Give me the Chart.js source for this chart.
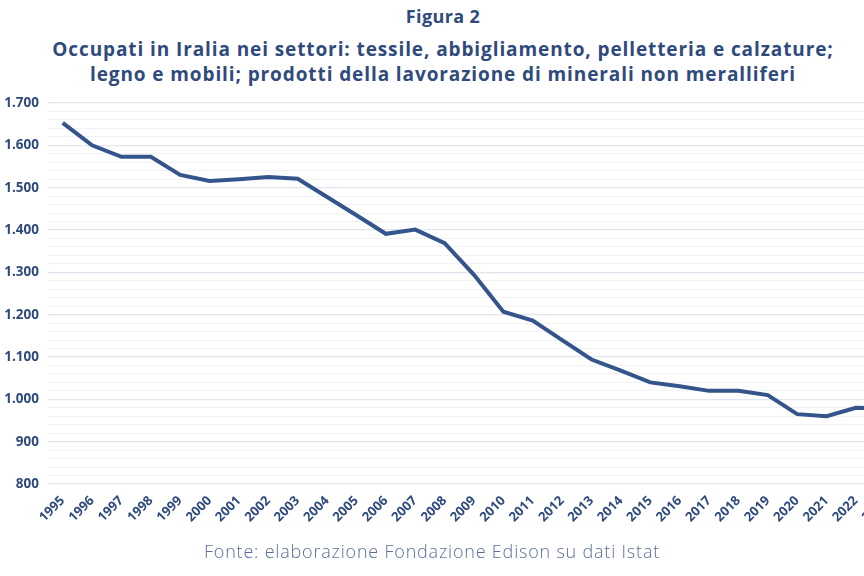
<!DOCTYPE html>
<html>
<head>
<meta charset="utf-8">
<script src="https://cdn.jsdelivr.net/npm/chart.js@4.4.1/dist/chart.umd.min.js"></script>
<style>
  html, body { margin: 0; padding: 0; width: 864px; height: 576px; overflow: hidden; background: #ffffff; }
  #wrap { position: absolute; left: 0; top: 0; width: 900px; height: 540px; }
  .t { position: absolute; left: 0; width: 864px; text-align: center; color: #2f4a7c; font-family: "Open Sans", Lato, sans-serif; font-weight: 700; white-space: nowrap; }
  #fig { top: 4px; left: 11px; font-size: 18px; letter-spacing: 0.4px; }
  #title { top: 37px; left: 11px; font-size: 19px; line-height: 25px; letter-spacing: 0.9px; }
  #src { top: 539px; font-size: 18px; font-weight: 300; color: #5b6f98; letter-spacing: 0.8px; }
</style>
</head>
<body>
<div class="t" id="fig">Figura 2</div>
<div class="t" id="title">Occupati in Iralia nei settori: tessile, abbigliamento, pelletteria e calzature;<br>legno e mobili; prodotti della lavorazione di minerali non meralliferi</div>
<div id="wrap"><canvas id="c"></canvas></div>
<div class="t" id="src">Fonte: elaborazione Fondazione Edison su dati Istat</div>
<script>
const years = ['1995','1996','1997','1998','1999','2000','2001','2002','2003','2004','2005','2006','2007','2008','2009','2010','2011','2012','2013','2014','2015','2016','2017','2018','2019','2020','2021','2022','2023'];
const occupati = [1653,1600,1573,1573,1530,1516,1520,1525,1521,1478,1435,1391,1401,1369,1294,1207,1186,1140,1094,1068,1040,1031,1020,1020,1010,965,960,980,979];
const yMin = 800, yMax = 1700, yStep = 20;

const navy = '#2f4a7c';
new Chart(document.getElementById('c'), {
  type: 'line',
  data: { labels: years, datasets: [{ data: occupati, borderColor: '#34558b', borderWidth: 4, pointRadius: 0, tension: 0, fill: false }] },
  options: {
    responsive: true, maintainAspectRatio: false, animation: false,
    layout: { padding: { top: 103, right: 0, bottom: 0, left: 0 } },
    plugins: { legend: { display: false }, tooltip: { enabled: false } },
    scales: {
      x: {
        offset: true,
        grid: { display: false },
        border: { display: false },
        ticks: { color: navy, font: { family: 'Open Sans', weight: 700, size: 13 }, minRotation: 45, maxRotation: 45, autoSkip: false, padding: 1 },
        afterFit: s => { s.height = 56; }
      },
      y: {
        min: yMin, max: yMax,
        border: { display: false },
        grid: {
          drawTicks: false,
          color: c => (c.tick.value % 100 === 0) ? '#e2e5ee' : '#f1f2f6',
          lineWidth: c => (c.tick.value % 100 === 0) ? 1.2 : 1
        },
        ticks: {
          stepSize: yStep, autoSkip: false, padding: 9,
          color: navy, font: { family: 'Open Sans', weight: 700, size: 13.5 },
          callback: v => (v % 100 === 0) ? v.toLocaleString('de-DE') : ''
        },
        afterFit: s => { s.width = 48; }
      }
    }
  }
});
</script>
</body>
</html>
